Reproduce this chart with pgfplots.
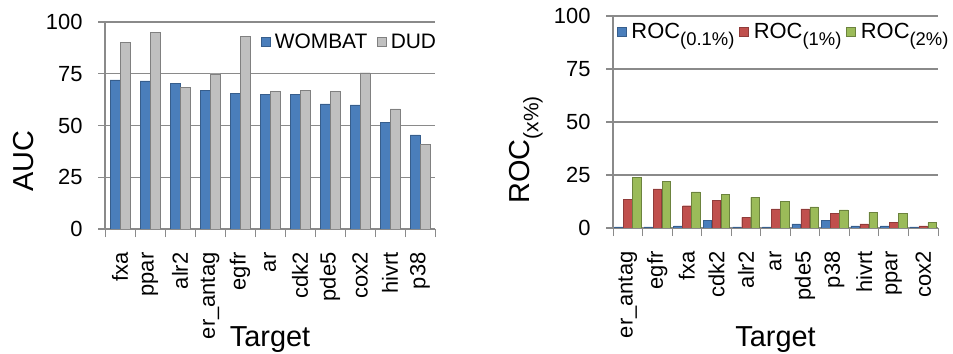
\documentclass[border=0pt]{standalone}
\usepackage{fontspec}
\setmainfont{Liberation Sans}
\usepackage{pgfplots}
\pgfplotsset{compat=1.18}
\definecolor{wblue}{HTML}{4A7EBB}
\definecolor{dgray}{HTML}{C0C0C0}
\definecolor{rred}{HTML}{C0504D}
\definecolor{ggreen}{HTML}{9BBB59}
\definecolor{gridc}{HTML}{8A8A8A}
\newcommand{\sub}[2]{\raisebox{-0.32em}{\fontsize{#1}{#1}\selectfont #2}}
\pgfplotsset{
  mystyle/.style={
    scale only axis,
    ymin=0, ymax=100, ytick={0,25,50,75,100},
    xmin=-0.5, xmax=10.5, xtick={0,...,10},
    minor xtick={-0.5,0.5,...,10.5},
    axis x line*=bottom, axis y line*=left,
    axis line style={gridc, line width=1.3bp, -},
    ymajorgrids, grid style={gridc, line width=1.3bp},
    major x tick style={draw=none},
    minor x tick style={gridc, line width=1bp},
    minor tick length=8bp,
    major y tick style={gridc, line width=1.3bp},
    major tick length=7bp,
    tick align=outside,
    tick label style={font=\fontsize{22}{24}\selectfont},
    /pgf/number format/assume math mode=true,
    yticklabel style={xshift=-12bp},
    x tick label style={rotate=90, anchor=east, xshift=-13bp},
    label style={font=\fontsize{29}{31}\selectfont},
    legend style={draw=none, fill=none, inner sep=0pt},
    legend cell align=left,
  },
  sq/.style={legend image code/.code={\fill[##1] (0bp,-4.5bp) rectangle (9bp,4.5bp);}},
}
\begin{document}
\begin{tikzpicture}
\path[use as bounding box] (0,0) rectangle (953bp,354bp);
\begin{axis}[mystyle,
  at={(105bp,125bp)}, anchor=south west,
  width=330bp, height=207bp,
  ybar=0bp, bar width=10bp, sq,
  xticklabels={fxa,ppar,alr2,er\_antag,egfr,ar,cdk2,pde5,cox2,hivrt,p38},
  ylabel={AUC},
  ylabel style={at={(axis description cs:-0.248,0.329)}, anchor=center},
  xlabel={Target},
  xlabel style={at={(axis description cs:0.5,-0.570)}, anchor=base},
  legend columns=2,
  legend style={at={(axis description cs:1.01,0.955)}, anchor=north east,
    font=\fontsize{21}{24}\selectfont,
    /tikz/every odd column/.style={column sep=2bp},
    /tikz/every even column/.style={column sep=8bp}},
]
\addplot[fill=wblue, draw=wblue!75!black, line width=0.4bp] coordinates {
 (0,72) (1,71.5) (2,70.5) (3,67) (4,65.5) (5,65) (6,65) (7,60.5) (8,60) (9,51.5) (10,45.5)};
\addplot[fill=dgray, draw=gray, line width=0.4bp] coordinates {
 (0,90) (1,95) (2,68.5) (3,75) (4,93) (5,66.5) (6,67) (7,66.5) (8,75.5) (9,58) (10,41)};
\legend{WOMBAT,DUD}
\end{axis}
\begin{axis}[mystyle,
  at={(613bp,126bp)}, anchor=south west,
  width=325bp, height=212bp,
  ybar=0.5bp, bar width=8.5bp, sq,
  xticklabels={er\_antag,egfr,fxa,cdk2,alr2,ar,pde5,p38,hivrt,ppar,cox2},
  ylabel={ROC\sub{21}{(x\%)}},
  ylabel style={at={(axis description cs:-0.268,0.368)}, anchor=center},
  xlabel={Target},
  xlabel style={at={(axis description cs:0.5,-0.561)}, anchor=base},
  legend columns=3,
  legend style={at={(axis description cs:0.012,0.925)}, anchor=west,
    font=\fontsize{22}{24}\selectfont,
    /tikz/every odd column/.style={column sep=3bp},
    /tikz/every even column/.style={column sep=3bp}},
]
\addplot[fill=wblue, draw=wblue!75!black, line width=0.4bp] coordinates {
 (0,0.5) (1,0.5) (2,1) (3,3.5) (4,0.5) (5,0.5) (6,2) (7,3.5) (8,1) (9,1) (10,0.5)};
\addplot[fill=rred, draw=rred!75!black, line width=0.4bp] coordinates {
 (0,13.5) (1,18.5) (2,10.5) (3,13) (4,5) (5,9) (6,9) (7,7) (8,2) (9,2.5) (10,1)};
\addplot[fill=ggreen, draw=ggreen!70!black, line width=0.4bp] coordinates {
 (0,24) (1,22) (2,17) (3,16) (4,14.5) (5,12.5) (6,10) (7,8.5) (8,7.5) (9,7) (10,2.5)};
\legend{ROC\sub{18.5}{(0.1\%)},ROC\sub{18.5}{(1\%)},ROC\sub{18.5}{(2\%)}}
\end{axis}
\end{tikzpicture}
\end{document}
